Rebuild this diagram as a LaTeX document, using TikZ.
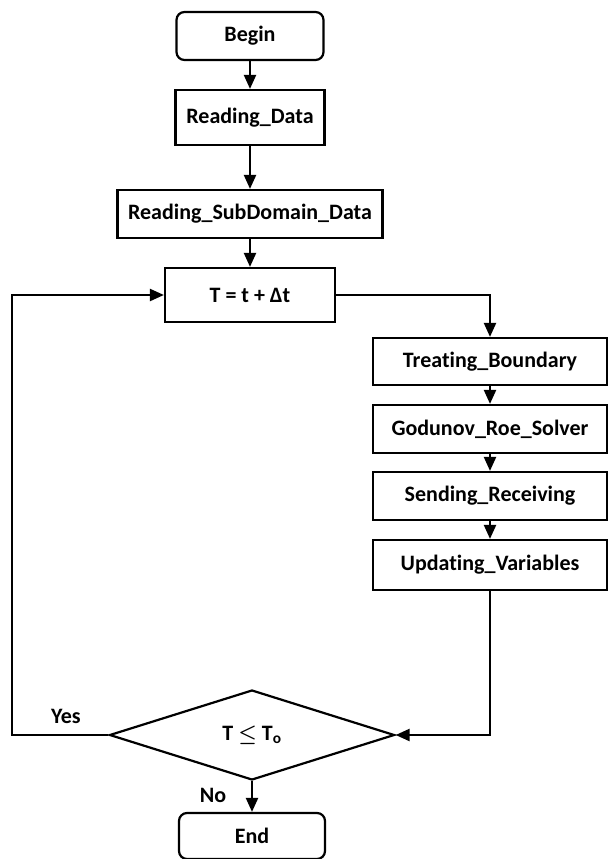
\documentclass[tikz,border=0pt]{standalone}
\usepackage{fontspec}
\setmainfont{Carlito}[Ligatures=CommonOff]
\usetikzlibrary{shapes.geometric,arrows.meta}
\begin{document}
\begin{tikzpicture}[x=1pt,y=-1pt,
  every node/.style={font=\bfseries\fontsize{22}{25}\selectfont},
  box/.style={draw, line width=2.2pt, inner sep=0pt, align=center},
  term/.style={box, rounded corners=8pt},
  dec/.style={draw, line width=2.2pt, diamond, inner sep=0pt, minimum width=285pt, minimum height=90pt},
  conn/.style={line width=2.2pt, -{Triangle[length=14pt,width=12pt]}},
  plain/.style={line width=2.2pt}]
\useasboundingbox (0,0) rectangle (609,859);
\node[term, minimum width=147pt, minimum height=48pt] (begin) at (250,36) {Begin};
\node[box, minimum width=149pt, minimum height=55pt] (rd) at (250,117.5) {Reading\_Data};
\node[box, minimum width=265pt, minimum height=48pt] (rsd) at (250,214) {Reading\_SubDomain\_Data};
\node[box, minimum width=170pt, minimum height=54pt] (t) at (250,295) {T = t + Δt};
\node[box, minimum width=234pt, minimum height=47pt] (tb) at (490,361.5) {Treating\_Boundary};
\node[box, minimum width=234pt, minimum height=48pt] (gr) at (490,429) {Godunov\_Roe\_Solver};
\node[box, minimum width=234pt, minimum height=48pt] (sr) at (490,496) {Sending\_Receiving};
\node[box, minimum width=234pt, minimum height=50pt] (uv) at (490,565) {Updating\_Variables};
\node[dec] (d) at (252,735) {T {\boldmath$\leq$} T\textsubscript{o}};
\node[term, minimum width=146pt, minimum height=46pt] (end) at (252,836) {End};
\coordinate (loopleft) at (12,295);
\node (yes) at (66,716) {Yes};
\node (no) at (213,795) {No};
\draw[conn] (begin.south) -- (rd.north);
\draw[conn] (rd.south) -- (rsd.north);
\draw[conn] (rsd.south) -- (t.north);
\draw[conn] (t.east) -| (tb.north);
\draw[conn] (tb.south) -- (gr.north);
\draw[conn] (gr.south) -- (sr.north);
\draw[conn] (sr.south) -- (uv.north);
\draw[conn] (uv.south) |- (d.east);
\draw[conn] (d.west) -| (loopleft) -- (t.west);
\draw[conn] (d.south) -- (end.north);
\end{tikzpicture}
\end{document}
